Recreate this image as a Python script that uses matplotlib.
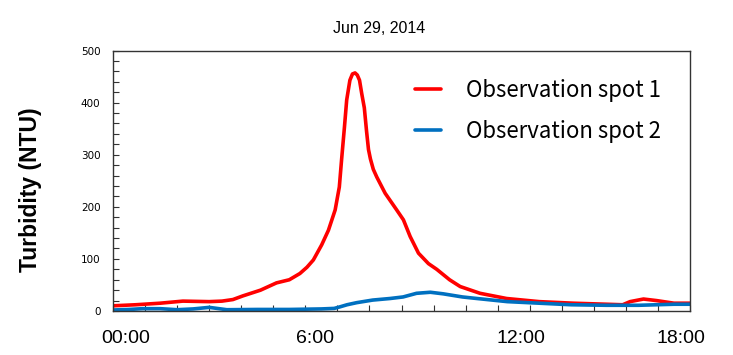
import matplotlib
matplotlib.use('Agg')
import matplotlib.pyplot as plt
from matplotlib.ticker import MultipleLocator

# hours since midnight and turbidity readings (NTU)
spot1_hours = [0, 0.7, 1.47, 2.18, 3.0, 3.4, 3.74, 4.05, 4.6, 5.1, 5.5, 5.83, 6.05,
               6.25, 6.51, 6.72, 6.93, 7.06, 7.13, 7.22, 7.29, 7.39, 7.47, 7.55,
               7.62, 7.69, 7.76, 7.84, 7.91, 7.97, 8.03, 8.12, 8.23, 8.49, 8.85,
               9.06, 9.27, 9.53, 9.84, 10.1, 10.5, 10.83, 11.45, 12.28, 13.3,
               14.36, 15.4, 15.9, 16.13, 16.55, 16.96, 17.5, 18]
spot1_ntu = [10, 12, 15, 19, 18, 19, 22, 29, 40, 54, 60, 72, 84,
             98, 127, 155, 194, 238, 290, 353, 405, 443, 455, 457,
             453, 443, 417, 390, 345, 310, 292, 272, 257, 226, 194,
             175, 143, 111, 91, 80, 60, 47, 34, 24, 18,
             15, 13, 12, 18, 23, 20, 15, 15]

spot2_hours = [0, 0.5, 0.93, 1.47, 2.0, 2.5, 3.0, 3.55, 4.5, 5.5, 6.5, 6.9, 7.08,
               7.3, 7.6, 8.1, 8.64, 9.05, 9.47, 9.9, 10.3, 10.9, 11.2, 12.3,
               13.3, 14.3, 15.4, 16.4, 17.5, 18]
spot2_ntu = [2, 3, 4.5, 4.5, 2.5, 4, 7, 2.5, 3, 3, 4, 5, 8,
             12, 16, 21, 24, 27, 34, 36, 33, 27, 25, 18,
             15, 12, 11, 11, 13, 13]

time_labels = ['00:00', '6:00', '12:00', '18:00']
label_pos = [0.39, 6.3, 12.73, 17.72]

fig = plt.figure(figsize=(7.33, 3.55), dpi=100)
ax = fig.add_axes([0.1542, 0.1239, 0.7871, 0.7338])

ax.plot(spot1_hours, spot1_ntu, color='#ff0000', lw=2.6, label='Observation spot 1',
        solid_joinstyle='round', solid_capstyle='round')
ax.plot(spot2_hours, spot2_ntu, color='#0070c0', lw=2.6, label='Observation spot 2',
        solid_joinstyle='round', solid_capstyle='round')

ax.set_xlim(0, 18)
ax.set_ylim(0, 500)

#ticks: inward, hourly on x, 100/20 on y
ax.xaxis.set_major_locator(MultipleLocator(1))
ax.yaxis.set_major_locator(MultipleLocator(100))
ax.yaxis.set_minor_locator(MultipleLocator(20))
ax.tick_params(axis='x', direction='in', length=4, width=0.8, color='#333333',
               labelbottom=False)
ax.tick_params(axis='y', which='both', direction='in', length=4, width=0.8,
               color='#333333', labelsize=7.5, pad=9)
for s in ax.spines.values():
    s.set_color('#333333')
    s.set_linewidth(1.0)

for pos, lab in zip(label_pos, time_labels):
    ax.text(pos, -0.104, lab, transform=ax.get_xaxis_transform(), ha='center',
            va='center', fontsize=14, family='Liberation Sans')

ax.set_ylabel('Turbidity (NTU)', fontsize=16.5, fontweight='bold',
              family='Liberation Sans')
ax.yaxis.set_label_coords(-0.123, 0.464)
fig.text(0.517, 0.921, 'Jun 29, 2014', ha='center', va='center', fontsize=11.5,
         family='Liberation Sans')

ax.legend(loc='upper left', bbox_to_anchor=(0.523, 0.89), frameon=False,
          borderpad=0, borderaxespad=0, handlelength=1.2, handletextpad=1.1,
          labelspacing=0.8, prop={'family': 'Noto Sans CJK JP', 'size': 16})

fig.savefig('out.png', dpi=100)
